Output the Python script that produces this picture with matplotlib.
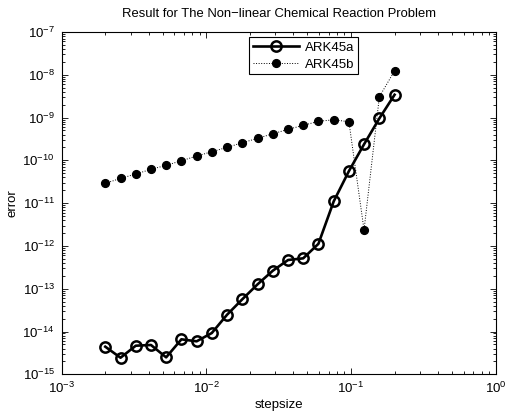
import matplotlib
matplotlib.use("Agg")
import matplotlib.pyplot as plt
from matplotlib.ticker import LogLocator, NullFormatter, LogFormatterSciNotation

plt.rcParams['font.family'] = ['Liberation Sans', 'DejaVu Sans']
plt.rcParams['mathtext.fontset'] = 'custom'
plt.rcParams['mathtext.rm'] = 'Liberation Sans'
plt.rcParams['mathtext.it'] = 'Liberation Sans:italic'
plt.rcParams['mathtext.bf'] = 'Liberation Sans:bold'

# step sizes (x)
stepsize = [0.002, 0.00255, 0.00325, 0.00414, 0.00527, 0.00672, 0.00856,
            0.0109, 0.0139, 0.0177, 0.0226, 0.0288, 0.0367, 0.0467,
            0.0595, 0.0759, 0.0967, 0.123, 0.157, 0.2]

err_ark45a = [4.42e-15, 2.44e-15, 4.66e-15, 4.84e-15, 2.49e-15, 6.57e-15,
              5.90e-15, 9.22e-15, 2.47e-14, 5.65e-14, 1.27e-13, 2.64e-13,
              4.69e-13, 5.13e-13, 1.12e-12, 1.10e-11, 5.62e-11, 2.37e-10,
              9.58e-10, 3.41e-9]

err_ark45b = [2.90e-11, 3.79e-11, 4.79e-11, 6.17e-11, 7.64e-11, 9.79e-11,
              1.26e-10, 1.59e-10, 2.01e-10, 2.58e-10, 3.27e-10, 4.18e-10,
              5.30e-10, 6.58e-10, 8.15e-10, 8.89e-10, 7.98e-10, 2.35e-12,
              3.06e-9, 1.24e-8]

x_ticks = [1e-3, 1e-2, 1e-1, 1e0]
y_ticks = [1e-15, 1e-14, 1e-13, 1e-12, 1e-11, 1e-10, 1e-9, 1e-8, 1e-7]

series_labels = ["ARK45a", "ARK45b"]
title = "Result for The Non\u2212linear Chemical Reaction Problem"
xlabel = "stepsize"
ylabel = "error"

fig = plt.figure(figsize=(5.06, 4.17), dpi=100)
ax = fig.add_axes([0.122, 0.1024, 0.8576, 0.8209])

ax.loglog(stepsize, err_ark45a, '-o', color='black', lw=1.9,
          markersize=7.4, markerfacecolor='none', markeredgewidth=1.8,
          label=series_labels[0])
ax.loglog(stepsize, err_ark45b, ':o', color='black', lw=0.7,
          markersize=5.6, markerfacecolor='black', markeredgewidth=1.0,
          label=series_labels[1])

ax.set_xlim(1e-3, 1e0)
ax.set_ylim(1e-15, 1e-7)

ax.set_xticks(x_ticks)
ax.set_yticks(y_ticks)
ax.xaxis.set_major_formatter(LogFormatterSciNotation())
ax.yaxis.set_major_formatter(LogFormatterSciNotation())
ax.xaxis.set_minor_locator(LogLocator(base=10, subs=range(2, 10), numticks=20))
ax.yaxis.set_minor_locator(LogLocator(base=10, subs=range(2, 10), numticks=20))
ax.xaxis.set_minor_formatter(NullFormatter())
ax.yaxis.set_minor_formatter(NullFormatter())

ax.tick_params(which='both', direction='in', top=True, right=True,
               labelsize=9.5, width=0.6)
ax.tick_params(which='major', length=4.5, pad=5)
ax.tick_params(which='minor', length=2.5)
for s in ax.spines.values():
    s.set_linewidth(0.8)

ax.set_title(title, fontsize=9.4, pad=11)
ax.set_xlabel(xlabel, fontsize=9.5, labelpad=2)
ax.set_ylabel(ylabel, fontsize=9.5, labelpad=3)

leg = ax.legend(loc='upper left', bbox_to_anchor=(0.432, 0.984),
                borderaxespad=0, fancybox=False, edgecolor='black',
                framealpha=1, fontsize=9.5, handlelength=3.5,
                handletextpad=0.4, borderpad=0.3, labelspacing=0.35)
leg.get_frame().set_linewidth(0.8)

fig.savefig("out.png", dpi=100)
